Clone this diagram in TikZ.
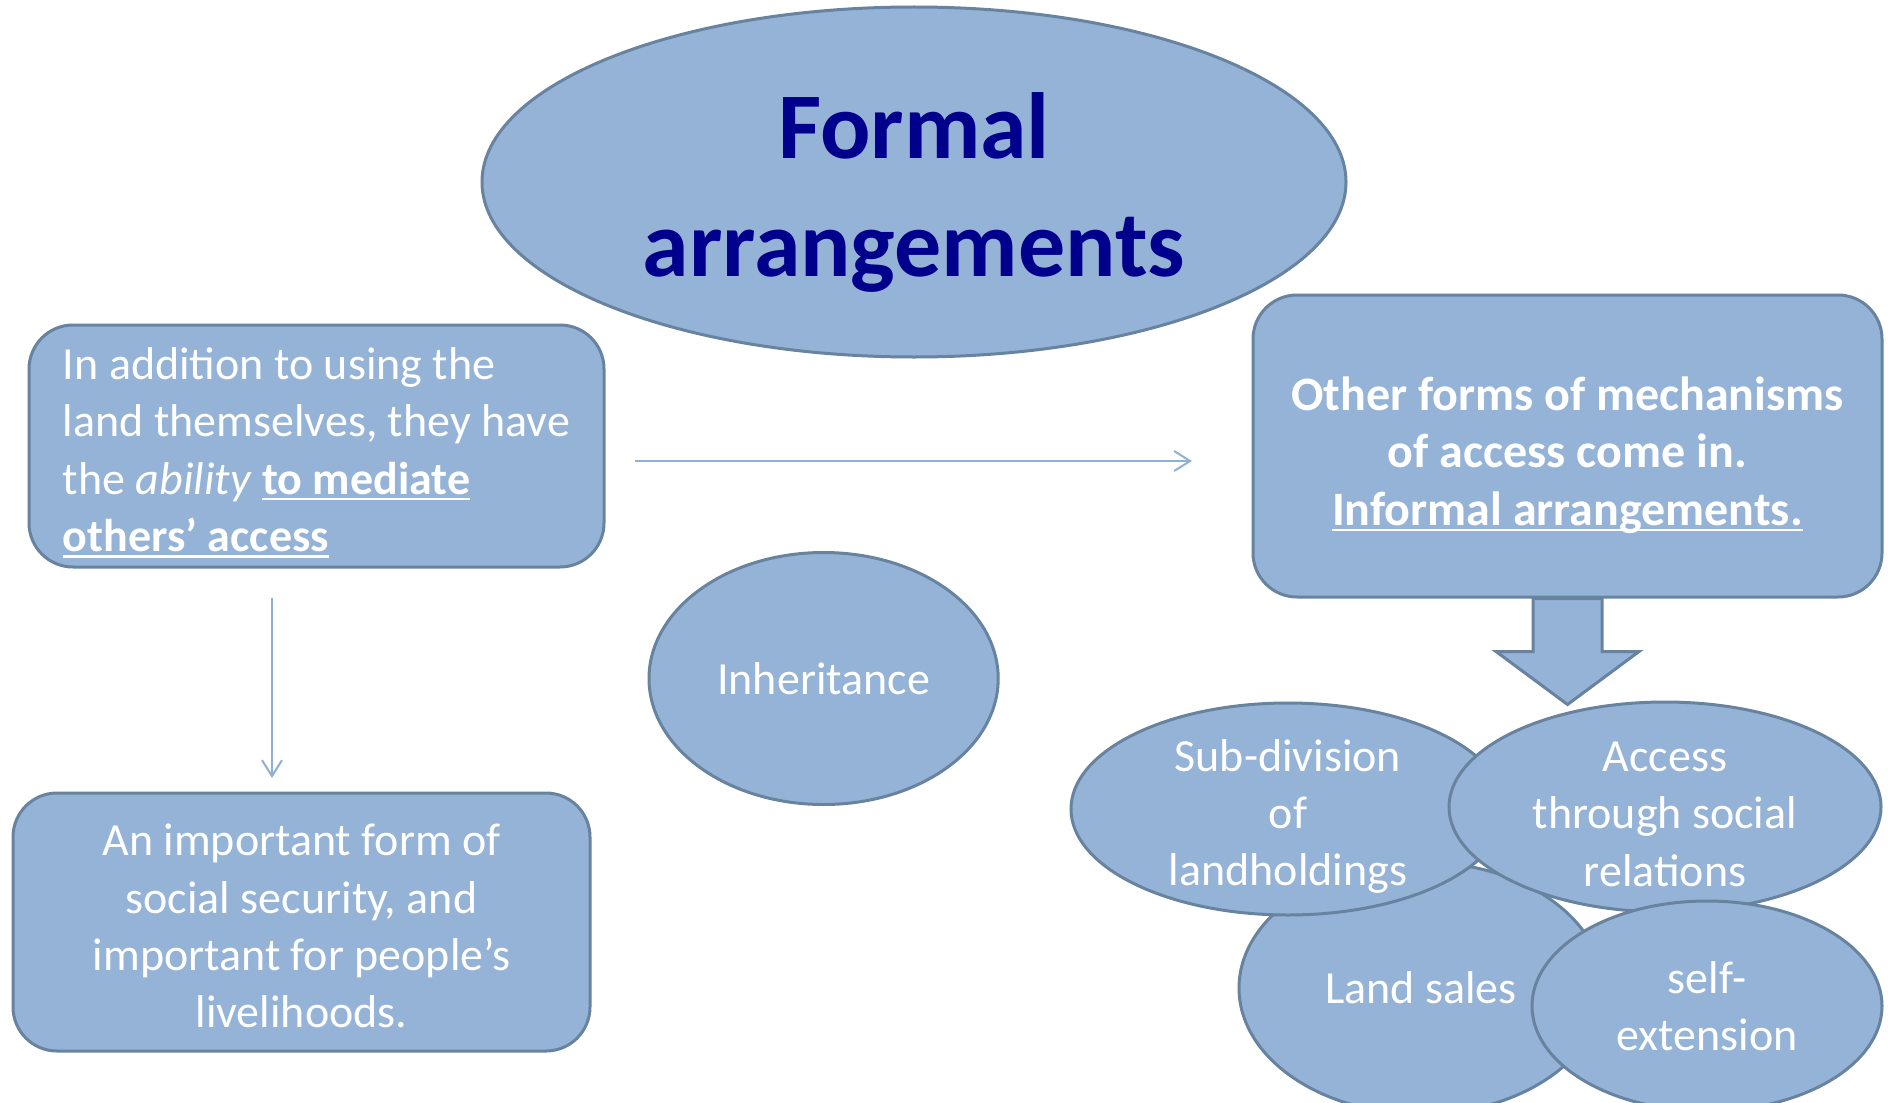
\documentclass[tikz,border=0pt]{standalone}
\usepackage{fontspec}
\setmainfont{Carlito}
\usetikzlibrary{shapes.geometric,arrows.meta}
\definecolor{boxfill}{RGB}{149,179,215}
\definecolor{boxline}{RGB}{104,131,160}
\definecolor{titleblue}{RGB}{0,0,140}
\definecolor{linkblue}{RGB}{143,177,213}
\newsavebox{\ulbox}
\newcommand{\uln}[1]{\sbox{\ulbox}{#1}\rlap{\rule[-3pt]{\wd\ulbox}{1.1pt}}\usebox{\ulbox}}
\newcommand{\lift}[1]{\rule{0pt}{#1}}
\tikzset{
  roundbox/.style={draw=boxline,fill=boxfill,line width=1.5pt,rounded corners=22pt,text=white,font=\fontsize{23}{28.7}\selectfont},
  bubble/.style={draw=boxline,fill=boxfill,line width=1.5pt,ellipse,inner sep=0pt,text=white,align=center,font=\fontsize{23}{28.7}\selectfont},
  link/.style={draw=linkblue,line width=1pt,-{Straight Barb[length=8pt,width=10pt]}},
  bigarrow/.style={draw=boxline,fill=boxfill,line width=1.5pt}
}
\begin{document}
\begin{tikzpicture}[x=0.5pt,y=-0.5pt]
	\useasboundingbox (0,0) rectangle (1888,1102);
	\clip (0,0) rectangle (1888,1102);
	\node[bubble,minimum width=432pt,minimum height=175pt,text=titleblue,font=\fontsize{47}{59}\selectfont\bfseries] (formal) at (914,182) {\lift{43pt}Formal\\arrangements};
	\node[roundbox,minimum width=287.5pt,minimum height=121pt,align=left] (mediate) at (316.5,446) {\lift{22.5pt}In addition to using the\\land themselves, they have\\the \textit{ability} \uln{\textbf{to mediate}}\\\uln{\textbf{others’ access}}};
	\node[roundbox,minimum width=288.5pt,minimum height=129pt,align=center] (security) at (301.5,922) {\lift{20pt}An important form of\\social security, and\\important for people’s\\livelihoods.};
	\node[roundbox,minimum width=314.5pt,minimum height=151pt,align=center,font=\fontsize{24}{28.7}\selectfont\bfseries] (informal) at (1567.5,446) {\lift{26pt}Other forms of mechanisms\\of access come in.\\\uln{Informal arrangements.}};
	\node[bubble,minimum width=174.6pt,minimum height=126pt] (inherit) at (823.6,678.5) {Inheritance};
	\coordinate (v1) at (272,598);
	\coordinate (v2) at (272,778);
	\coordinate (h1) at (635,461);
	\coordinate (h2) at (1192,461);
	\draw[link] (v1) -- (v2);
	\draw[link] (h1) -- (h2);
	\draw[bigarrow,shift={(informal.south)}] (-34.5,0) -- (-34.5,53) -- (-71.5,53) -- (0,106) -- (71.5,53) -- (34.5,53) -- (34.5,0) -- cycle;
	\node[bubble,minimum width=182pt,minimum height=126pt] (sales) at (1421,988) {Land sales};
	\node[bubble,minimum width=217pt,minimum height=106pt,inner ysep=-8pt] (subdiv) at (1288,809) {\lift{23.5pt}Sub-division\\of\\landholdings};
	\node[bubble,minimum width=216pt,minimum height=105pt,inner ysep=-8pt] (social) at (1665,807) {\lift{22pt}Access\\through social\\relations};
	\node[bubble,minimum width=175pt,minimum height=105pt] (selfext) at (1707,1006) {self-\\extension};
\end{tikzpicture}
\end{document}
